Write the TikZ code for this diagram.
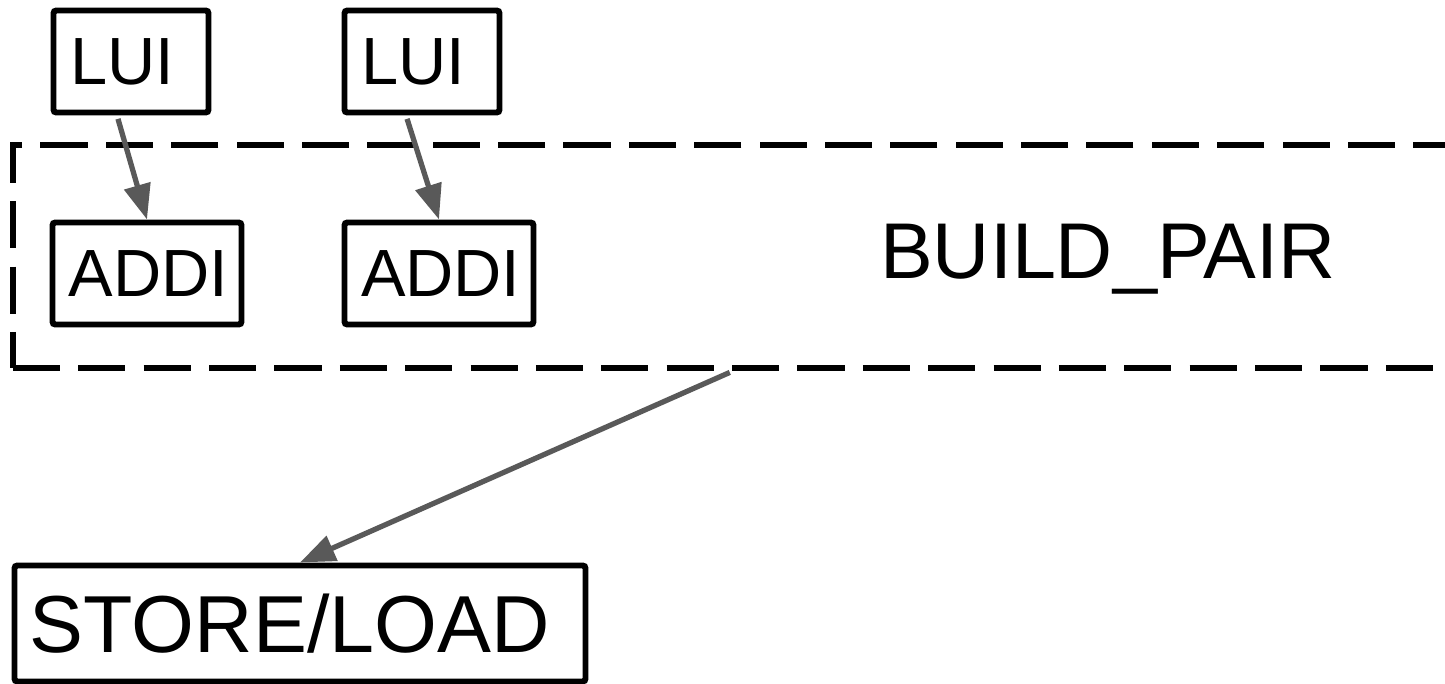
\documentclass[tikz,border=0pt]{standalone}
\usepackage{fontspec}
\setmainfont{Liberation Sans}
\usetikzlibrary{arrows.meta, positioning}

\begin{document}
\begin{tikzpicture}[
        instr/.style={rectangle, draw, line width=1.7pt, rounded corners=0.8pt, inner sep=0pt, align=left, font=\fontsize{19}{22}\selectfont},
        flow/.style={draw=black!65, line width=1.5pt, -{Triangle[length=10pt, width=7.5pt]}, shorten <=1pt}
    ]
        \useasboundingbox (0, 0) rectangle (14.45, -6.84);

        \node[rectangle, draw, dashed, line width=1.7pt, dash pattern=on 13.4pt off 5.2pt,
            minimum width=14.62cm, minimum height=2.23cm, inner sep=0pt] (pair) at (7.44, -2.565) {};
        \node[font=\fontsize{22.5}{26}\selectfont] (pairlabel) at (11.08, -2.59) {BUILD\_PAIR};

        \node[instr, minimum width=1.55cm, minimum height=1.02cm, text width=1.22cm] (lui1) at (1.31, -0.615) {LUI};
        \node[instr, minimum width=1.55cm, minimum height=1.02cm, text width=1.22cm] (lui2) at (4.22, -0.615) {LUI};
        \node[instr, minimum width=1.89cm, minimum height=1.02cm, text width=1.56cm] (addi1) at (1.47, -2.735) {ADDI};
        \node[instr, minimum width=1.89cm, minimum height=1.02cm, text width=1.56cm] (addi2) at (4.39, -2.735) {ADDI};
        \node[instr, minimum width=5.71cm, minimum height=1.16cm, text width=5.40cm, font=\fontsize{23}{27}\selectfont] (store) at (3.0, -6.235) {STORE/LOAD};

        \draw[flow] ([xshift=-0.14cm]lui1.south) to (addi1.north);
        \draw[flow] ([xshift=-0.16cm]lui2.south) to (addi2.north);
        \draw[flow] ([xshift=-0.11cm]pair.south) to (store.north);
    \end{tikzpicture}
\end{document}
